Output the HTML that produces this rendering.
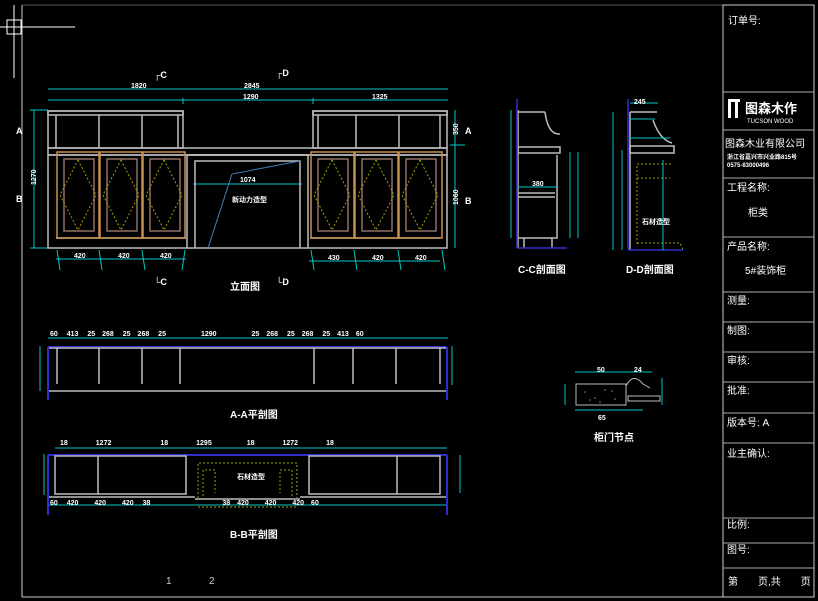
<!DOCTYPE html>
<html><head><meta charset="utf-8"><style>
html,body{margin:0;padding:0;background:#000;width:818px;height:601px;overflow:hidden}
svg{display:block}
text{font-family:"Liberation Sans","Noto Sans CJK SC",sans-serif;fill:#fff}
.g{stroke:#bdbdbd;fill:none;stroke-width:1.5}
.c{stroke:#00c8c8;fill:none;stroke-width:1}
.o{stroke:#c89050;fill:none;stroke-width:1.5}
.y{stroke:#a0a000;fill:none;stroke-width:1;stroke-dasharray:2 2}
.b{stroke:#3030c8;fill:none;stroke-width:1.5}
.s{font-size:7px;font-weight:bold}
.t{font-size:10px}
</style></head><body>
<svg width="818" height="601" viewBox="0 0 818 601">
<!-- frame -->
<line x1="22" y1="5" x2="22" y2="597" stroke="#ccc"/>
<line x1="22" y1="597" x2="723" y2="597" stroke="#ccc"/>
<line x1="22" y1="5" x2="723" y2="5" stroke="#555"/>
<rect x="723" y="5" width="91" height="592" fill="none" stroke="#ccc"/>
<g stroke="#aaa">
<line x1="723" y1="92" x2="814" y2="92"/><line x1="723" y1="130" x2="814" y2="130"/>
<line x1="723" y1="178" x2="814" y2="178"/><line x1="723" y1="237" x2="814" y2="237"/>
<line x1="723" y1="292" x2="814" y2="292"/><line x1="723" y1="322" x2="814" y2="322"/>
<line x1="723" y1="352" x2="814" y2="352"/><line x1="723" y1="382" x2="814" y2="382"/>
<line x1="723" y1="413" x2="814" y2="413"/><line x1="723" y1="443" x2="814" y2="443"/>
<line x1="723" y1="518" x2="814" y2="518"/><line x1="723" y1="543" x2="814" y2="543"/>
<line x1="723" y1="568" x2="814" y2="568"/>
</g>
<text x="728" y="24" class="t">订单号:</text>
<rect x="728" y="101" width="3" height="17" fill="#fff"/><rect x="735" y="101" width="3" height="17" fill="#fff"/><rect x="728" y="99" width="12" height="3" fill="#fff"/>
<text x="745" y="113" style="font-size:13px;font-weight:bold">图森木作</text>
<text x="747" y="123" style="font-size:6px">TUCSON WOOD</text>
<text x="725" y="147" class="t">图森木业有限公司</text>
<text x="727" y="159" style="font-size:6px;font-weight:bold">浙江省嘉兴市兴业路815号</text>
<text x="727" y="167" style="font-size:6px;font-weight:bold">0575-83000496</text>
<text x="727" y="191" class="t">工程名称:</text>
<text x="748" y="216" class="t">柜类</text>
<text x="727" y="250" class="t">产品名称:</text>
<text x="745" y="274" class="t">5#装饰柜</text>
<text x="727" y="304" class="t">测量:</text>
<text x="727" y="334" class="t">制图:</text>
<text x="727" y="364" class="t">审核:</text>
<text x="727" y="394" class="t">批准:</text>
<text x="727" y="426" class="t">版本号: A</text>
<text x="727" y="457" class="t">业主确认:</text>
<text x="727" y="528" class="t">比例:</text>
<text x="727" y="553" class="t">图号:</text>
<text x="728" y="585" class="t">第　　页,共　　页</text>
<!-- cursor -->
<rect x="7" y="20" width="14" height="14" fill="none" stroke="#fff"/>
<line x1="14" y1="5" x2="14" y2="78" stroke="#fff"/><line x1="0" y1="27" x2="75" y2="27" stroke="#fff"/>

<!-- Elevation -->
<g class="c">
<line x1="48" y1="89" x2="448" y2="89"/><line x1="48" y1="100" x2="448" y2="100"/>
<line x1="183" y1="98" x2="183" y2="104"/><line x1="313" y1="98" x2="313" y2="104"/>
<line x1="34" y1="110" x2="34" y2="248"/><line x1="30" y1="110" x2="48" y2="110"/><line x1="30" y1="248" x2="48" y2="248"/>
<line x1="455" y1="110" x2="455" y2="248"/><line x1="450" y1="145" x2="465" y2="145"/>
<line x1="56" y1="259" x2="186" y2="259"/><line x1="309" y1="261" x2="440" y2="261"/>
<line x1="193" y1="184" x2="302" y2="184"/>
<line x1="57" y1="250" x2="60" y2="270"/><line x1="99" y1="250" x2="102" y2="270"/><line x1="142" y1="250" x2="145" y2="270"/><line x1="185" y1="250" x2="182" y2="270"/>
<line x1="311" y1="250" x2="314" y2="270"/><line x1="354" y1="250" x2="357" y2="270"/><line x1="398" y1="250" x2="401" y2="270"/><line x1="442" y1="250" x2="445" y2="270"/>
</g>
<text x="131" y="88" class="s">1820</text><text x="244" y="88" class="s">2845</text><text x="243" y="99" class="s">1290</text><text x="372" y="99" class="s">1325</text>
<text x="240" y="182" class="s">1074</text><text x="232" y="202" class="s">新动力造型</text>
<text x="36" y="185" class="s" transform="rotate(-90 36 185)">1270</text>
<text x="458" y="135" class="s" transform="rotate(-90 458 135)">350</text>
<text x="458" y="205" class="s" transform="rotate(-90 458 205)">1060</text>
<g class="g">
<rect x="48" y="111" width="135" height="4"/><rect x="48" y="111" width="135" height="37"/>
<rect x="313" y="111" width="134" height="4"/><rect x="313" y="111" width="134" height="37"/>
<line x1="56" y1="115" x2="56" y2="148"/><line x1="99" y1="115" x2="99" y2="148"/><line x1="142" y1="115" x2="142" y2="148"/><line x1="178" y1="115" x2="178" y2="148"/>
<line x1="318" y1="115" x2="318" y2="148"/><line x1="356" y1="115" x2="356" y2="148"/><line x1="399" y1="115" x2="399" y2="148"/><line x1="440" y1="115" x2="440" y2="148"/>
<rect x="48" y="148" width="399" height="7"/>
<rect x="48" y="155" width="399" height="93"/>
<polyline points="187,248 187,155 308,155 308,248"/>
<polyline points="195,248 195,161 300,161 300,248"/>
<line x1="56" y1="238" x2="186" y2="238"/><line x1="310" y1="238" x2="440" y2="238"/>
</g>
<g class="o">
<rect x="57" y="152" width="42" height="86"/><rect x="100" y="152" width="42" height="86"/><rect x="143" y="152" width="42" height="86"/>
<rect x="311" y="152" width="43" height="86"/><rect x="355" y="152" width="43" height="86"/><rect x="399" y="152" width="43" height="86"/>
<rect x="64" y="159" width="30" height="72" stroke="#907060"/><rect x="107" y="159" width="30" height="72" stroke="#907060"/><rect x="150" y="159" width="30" height="72" stroke="#907060"/>
<rect x="318" y="159" width="30" height="72" stroke="#907060"/><rect x="362" y="159" width="30" height="72" stroke="#907060"/><rect x="406" y="159" width="30" height="72" stroke="#907060"/>
</g>
<g class="y">
<polygon points="78,160 96,195 78,230 60,195"/><polygon points="121,160 139,195 121,230 103,195"/><polygon points="164,160 182,195 164,230 146,195"/>
<polygon points="332,160 350,195 332,230 314,195"/><polygon points="376,160 394,195 376,230 358,195"/><polygon points="420,160 438,195 420,230 402,195"/>
</g>
<polyline points="208,248 232,174 300,161" stroke="#4080c0" fill="none"/>
<text x="154" y="78" class="s" style="font-size:9px">┌C</text><text x="154" y="285" class="s" style="font-size:9px">└C</text>
<text x="276" y="76" class="s" style="font-size:9px">┌D</text><text x="276" y="285" class="s" style="font-size:9px">└D</text>
<text x="16" y="134" class="s" style="font-size:9px">A</text><text x="16" y="202" class="s" style="font-size:9px">B</text>
<text x="465" y="134" class="s" style="font-size:9px">A</text><text x="465" y="204" class="s" style="font-size:9px">B</text>
<text x="74" y="258" class="s">420</text><text x="118" y="258" class="s">420</text><text x="160" y="258" class="s">420</text>
<text x="328" y="260" class="s">430</text><text x="372" y="260" class="s">420</text><text x="415" y="260" class="s">420</text>
<text x="230" y="290" class="t" style="font-weight:bold">立面图</text>

<!-- A-A plan -->
<g class="c"><line x1="48" y1="338" x2="448" y2="338"/><line x1="40" y1="346" x2="40" y2="391"/><line x1="452" y1="346" x2="452" y2="385"/></g>
<line x1="48" y1="347" x2="447" y2="347" stroke="#3030c8" stroke-width="2"/>
<g class="g"><line x1="48" y1="348" x2="447" y2="348"/><line x1="48" y1="391" x2="447" y2="391"/>
<line x1="57" y1="348" x2="57" y2="384"/><line x1="99" y1="348" x2="99" y2="384"/><line x1="142" y1="348" x2="142" y2="384"/><line x1="180" y1="348" x2="180" y2="384"/>
<line x1="314" y1="348" x2="314" y2="384"/><line x1="353" y1="348" x2="353" y2="384"/><line x1="396" y1="348" x2="396" y2="384"/><line x1="440" y1="348" x2="440" y2="384"/></g>
<line x1="48" y1="347" x2="48" y2="400" stroke="#3030c8" stroke-width="2"/><line x1="447" y1="347" x2="447" y2="400" stroke="#3030c8" stroke-width="2"/>
<text x="50" y="336" class="s">60 　413　 25　268　 25　268　 25　　　　　1290　　　　　25　268　 25　268　 25　413　60</text>
<text x="230" y="418" class="t" style="font-weight:bold">A-A平剖图</text>

<!-- B-B plan -->
<g class="c"><line x1="55" y1="448" x2="447" y2="448"/><line x1="48" y1="505" x2="447" y2="505"/><line x1="44" y1="454" x2="44" y2="495"/><line x1="460" y1="455" x2="460" y2="493"/></g>
<line x1="48" y1="455" x2="447" y2="455" stroke="#3030c8" stroke-width="2"/>
<g class="g"><rect x="55" y="456" width="131" height="38"/><rect x="309" y="456" width="131" height="38"/>
<line x1="98" y1="456" x2="98" y2="494"/><line x1="397" y1="456" x2="397" y2="494"/>
<line x1="48" y1="497" x2="195" y2="497"/><line x1="300" y1="497" x2="447" y2="497"/><line x1="195" y1="499" x2="300" y2="499"/></g>
<line x1="48" y1="455" x2="48" y2="515" stroke="#3030c8" stroke-width="2"/><line x1="447" y1="455" x2="447" y2="515" stroke="#3030c8" stroke-width="2"/>
<g class="y" stroke-width="1.5"><polyline points="198,498 198,463 297,463 297,498"/><polyline points="203,496 203,470 215,470 215,493"/><polyline points="292,496 292,470 280,470 280,493"/><line x1="198" y1="507" x2="297" y2="507"/></g>
<text x="60" y="445" class="s">18　　　　1272　　　　　　　18　　　　1295　　　　　18　　　　1272　　　　18</text>
<text x="237" y="479" class="s">石材造型</text>
<text x="50" y="505" class="s">60　 420　　 420　　 420　 38　　　　　　　　　　 38　420　　 420　　 420　60</text>
<text x="230" y="538" class="t" style="font-weight:bold">B-B平剖图</text>

<!-- C-C section -->
<g class="g"><polyline points="518,110 518,248"/><line x1="518" y1="112" x2="545" y2="112"/>
<path d="M545,112 Q548,135 560,134"/><rect x="518" y="147" width="42" height="6"/>
<polyline points="557,155 557,238 518,238"/><line x1="518" y1="193" x2="555" y2="193"/><line x1="518" y1="197" x2="555" y2="197"/>
<line x1="524" y1="238" x2="524" y2="248"/><line x1="552" y1="238" x2="552" y2="248"/></g>
<line x1="517" y1="99" x2="517" y2="248" stroke="#3030c8" stroke-width="1.5"/><line x1="517" y1="248" x2="567" y2="248" stroke="#3030c8" stroke-width="1.5"/>
<g class="c"><line x1="511" y1="110" x2="511" y2="238"/><line x1="570" y1="152" x2="570" y2="238"/><line x1="578" y1="152" x2="578" y2="238"/><line x1="518" y1="187" x2="557" y2="187"/></g>
<text x="532" y="186" class="s">380</text>
<text x="518" y="273" class="t" style="font-weight:bold">C-C剖面图</text>

<!-- D-D section -->
<g class="g"><line x1="630" y1="112" x2="630" y2="250"/><line x1="630" y1="112" x2="657" y2="112"/><path d="M653,120 Q660,140 672,143"/><rect x="630" y="146" width="44" height="7"/></g>
<line x1="628" y1="99" x2="628" y2="250" stroke="#3030c8" stroke-width="1.5"/><line x1="628" y1="250" x2="683" y2="250" stroke="#3030c8" stroke-width="1.5"/>
<g class="y" stroke-width="1.5"><polyline points="637,244 637,164 672,164"/><polyline points="637,178 670,178"/><polyline points="637,243 680,243 683,250"/></g>
<g class="c"><line x1="613" y1="112" x2="613" y2="250"/><line x1="622" y1="150" x2="622" y2="250"/><line x1="663" y1="160" x2="663" y2="250"/><line x1="630" y1="103" x2="658" y2="103"/><line x1="630" y1="119" x2="655" y2="119"/><line x1="630" y1="138" x2="670" y2="138"/></g>
<text x="634" y="104" class="s">245</text><text x="642" y="224" class="s">石材造型</text>
<text x="626" y="273" class="t" style="font-weight:bold">D-D剖面图</text>

<!-- node -->
<g class="c"><line x1="575" y1="372" x2="652" y2="372"/><line x1="575" y1="410" x2="643" y2="410"/><line x1="565" y1="384" x2="565" y2="405"/><line x1="662" y1="378" x2="662" y2="405"/></g>
<rect x="576" y="384" width="50" height="21" fill="none" stroke="#bbb"/>
<g fill="#5090d0"><circle cx="585" cy="392" r="0.8"/><circle cx="595" cy="398" r="0.8"/><circle cx="605" cy="390" r="0.8"/><circle cx="615" cy="399" r="0.8"/><circle cx="600" cy="402" r="0.8"/><circle cx="590" cy="400" r="0.8"/><circle cx="612" cy="391" r="0.8"/></g>
<path d="M626,386 Q633,372 643,384 L650,388" fill="none" stroke="#bbb"/><rect x="628" y="396" width="32" height="5" fill="none" stroke="#bbb"/>
<text x="597" y="372" class="s">50</text><text x="634" y="372" class="s">24</text><text x="598" y="420" class="s">65</text>
<text x="594" y="441" class="t" style="font-weight:bold">柜门节点</text>

<text x="166" y="584" class="t" style="fill:#ccc">1</text><text x="209" y="584" class="t" style="fill:#ccc">2</text>
</svg>
</body></html>
